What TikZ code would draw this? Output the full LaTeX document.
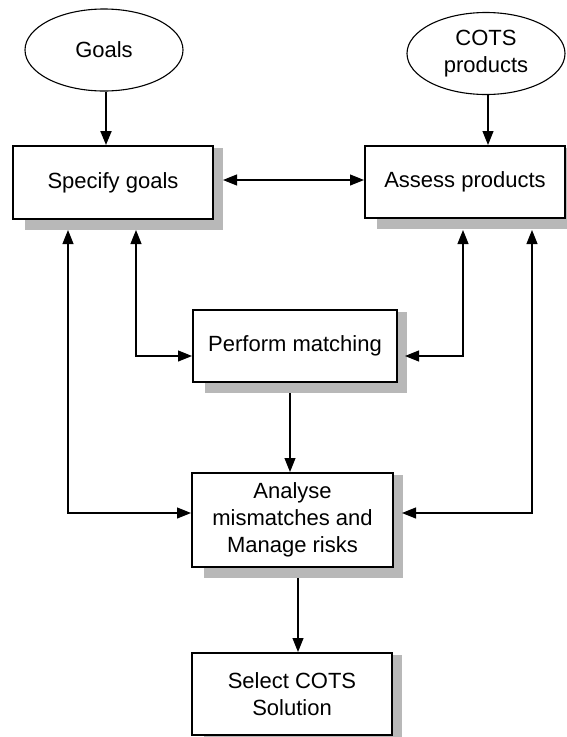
\documentclass[tikz,border=0pt]{standalone}
\usepackage{fontspec}
\setmainfont{Liberation Sans}
\usetikzlibrary{shapes.geometric,arrows.meta,backgrounds}
\begin{document}
\begin{tikzpicture}[x=1pt,y=-1pt,
  txt/.style={font=\fontsize{22}{27}\selectfont, align=center},
  box/.style={txt, draw, line width=2pt, fill=white, inner sep=0pt},
  oval/.style={txt, ellipse, draw, line width=1.1pt, inner sep=0pt, minimum width=158pt, minimum height=82pt},
  shd/.style={fill=black!28},
  arr/.style={line width=1.1pt, -{Triangle[length=14pt,width=11pt]}},
  barr/.style={line width=1.1pt, {Triangle[length=14pt,width=11pt]}-{Triangle[length=14pt,width=11pt]}}
]
\useasboundingbox (0,0) rectangle (566,737);

\node[oval] (goals) at (104,50) {Goals};
\node[oval] (cots) at (486,53.5) {COTS\\products};

\node[box, minimum width=200pt, minimum height=73pt] (spec) at (113,182.5) {Specify goals};
\node[box, minimum width=200pt, minimum height=72pt] (assess) at (465,182) {Assess products};
\node[box, minimum width=204pt, minimum height=72pt] (perf) at (295,346) {Perform matching};
\node[box, minimum width=201pt, minimum height=94pt] (anal) at (292.5,520) {Analyse\\mismatches and\\Manage risks};
\node[box, minimum width=200pt, minimum height=82pt] (sel) at (292,694) {Select COTS\\Solution};

\begin{scope}[on background layer]
  \foreach \n in {spec,assess,perf,anal,sel}{
    \fill[shd] ([xshift=13pt,yshift=-3pt]\n.north west) rectangle ([xshift=9pt,yshift=-10pt]\n.south east);
  }
\end{scope}

% inputs
\draw[arr, line width=2pt] ([xshift=2pt]goals.south) -- ([xshift=2pt]goals.south |- spec.north);
\draw[arr] ([xshift=2pt]cots.south) -- ([xshift=2pt]cots.south |- assess.north);

% specify <-> assess
\coordinate (sa) at ([xshift=9pt,yshift=2.5pt]spec.east);
\draw[barr] (sa) -- (sa -| assess.west);

% specify <-> perform
\draw[barr] ([xshift=23pt,yshift=-10pt]spec.south) |- ([yshift=-10pt]perf.west);
% assess <-> perform
\draw[barr] ([xshift=-2pt,yshift=-11pt]assess.south) |- ([xshift=7pt,yshift=-10pt]perf.east);
% specify <-> analyse
\draw[barr] ([xshift=-45pt,yshift=-10pt]spec.south) |- ([yshift=7pt]anal.west);
% assess <-> analyse
\draw[barr] ([xshift=67pt,yshift=-11pt]assess.south) |- ([xshift=8pt,yshift=7pt]anal.east);

% perform -> analyse
\coordinate (pa) at ([xshift=-5pt,yshift=-10pt]perf.south);
\draw[arr] (pa) -- (pa |- anal.north);
% analyse -> select
\coordinate (as) at ([xshift=5.5pt,yshift=-10pt]anal.south);
\draw[arr] (as) -- (as |- sel.north);
\end{tikzpicture}
\end{document}
